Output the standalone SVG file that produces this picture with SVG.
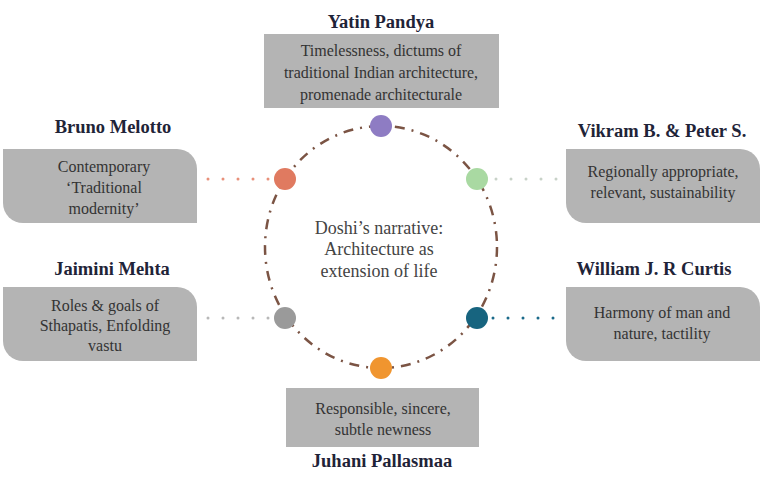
<svg xmlns="http://www.w3.org/2000/svg" width="765" height="478" viewBox="0 0 765 478">
<style>
text{font-family:'Liberation Serif','Times New Roman',Times,'DejaVu Serif',serif}
.title{font-weight:bold;font-size:18.5px;fill:#1f2438;text-anchor:middle}
.txt{font-size:16px;fill:#333;text-anchor:middle}
.center{font-size:18px;fill:#444;text-anchor:middle}
.box{fill:#b4b4b4}
.dots{fill:none;stroke-width:3;stroke-linecap:round;stroke-dasharray:0 15}
</style>
<rect width="765" height="478" fill="#fff"/>
<g id="connectors">
<ellipse cx="381" cy="247" rx="116" ry="121" fill="none" stroke="#7b5444" stroke-width="2.5" stroke-dasharray="10 7 2 7"/>
<line class="dots" x1="208" y1="179" x2="269" y2="179" stroke="#e8907a"/>
<line class="dots" x1="496" y1="179" x2="557" y2="179" stroke="#c8d2c8"/>
<line class="dots" x1="208" y1="318" x2="269" y2="318" stroke="#b8b8b8"/>
<line class="dots" x1="493" y1="318" x2="554" y2="318" stroke="#1b6a8a"/>
</g>
<g id="center">
<text class="center" x="379" y="234" font-family="'Liberation Serif', serif">Doshi’s narrative:</text>
<text class="center" x="379" y="255" font-family="'Liberation Serif', serif">Architecture as</text>
<text class="center" x="379" y="277" font-family="'Liberation Serif', serif">extension of life</text>
</g>
<g id="yatin">
<text class="title" x="381" y="28">Yatin Pandya</text>
<rect class="box" x="264" y="34" width="235" height="74"/>
<text class="txt" x="381" y="56">Timelessness, dictums of</text>
<text class="txt" x="381" y="78">traditional Indian architecture,</text>
<text class="txt" x="381" y="100">promenade architecturale</text>
<circle cx="381" cy="126" r="11" fill="#8e7cc3"/>
</g>
<g id="bruno">
<text class="title" x="113" y="133">Bruno Melotto</text>
<path class="box" d="M3,149 H177 A20,20 0 0 1 197,169 V223 H23 A20,20 0 0 1 3,203 Z"/>
<text class="txt" x="104" y="172">Contemporary</text>
<text class="txt" x="104" y="193">‘Traditional</text>
<text class="txt" x="104" y="214">modernity’</text>
<circle cx="285" cy="179" r="11" fill="#e07a60"/>
</g>
<g id="vikram">
<text class="title" x="662" y="137">Vikram B. &amp; Peter S.</text>
<path class="box" d="M566,149 H740 A20,20 0 0 1 760,169 V223 H586 A20,20 0 0 1 566,203 Z"/>
<text class="txt" x="663" y="177">Regionally appropriate,</text>
<text class="txt" x="663" y="198">relevant, sustainability</text>
<circle cx="477" cy="179" r="11" fill="#a9d9a2"/>
</g>
<g id="jaimini">
<text class="title" x="112" y="275">Jaimini Mehta</text>
<path class="box" d="M3,287 H177 A20,20 0 0 1 197,307 V361 H23 A20,20 0 0 1 3,341 Z"/>
<text class="txt" x="105" y="311">Roles &amp; goals of</text>
<text class="txt" x="105" y="331">Sthapatis, Enfolding</text>
<text class="txt" x="105" y="351">vastu</text>
<circle cx="285" cy="318" r="11" fill="#9a9a9a"/>
</g>
<g id="william">
<text class="title" x="654" y="275">William J. R Curtis</text>
<path class="box" d="M566,287 H740 A20,20 0 0 1 760,307 V361 H586 A20,20 0 0 1 566,341 Z"/>
<text class="txt" x="662" y="318">Harmony of man and</text>
<text class="txt" x="662" y="339">nature, tactility</text>
<circle cx="477" cy="318" r="11" fill="#17647f"/>
</g>
<g id="juhani">
<circle cx="381" cy="368" r="11" fill="#f0952f"/>
<rect class="box" x="286" y="388" width="193" height="59"/>
<text class="txt" x="383" y="414">Responsible, sincere,</text>
<text class="txt" x="383" y="435">subtle newness</text>
<text class="title" x="382" y="467">Juhani Pallasmaa</text>
</g>
</svg>
